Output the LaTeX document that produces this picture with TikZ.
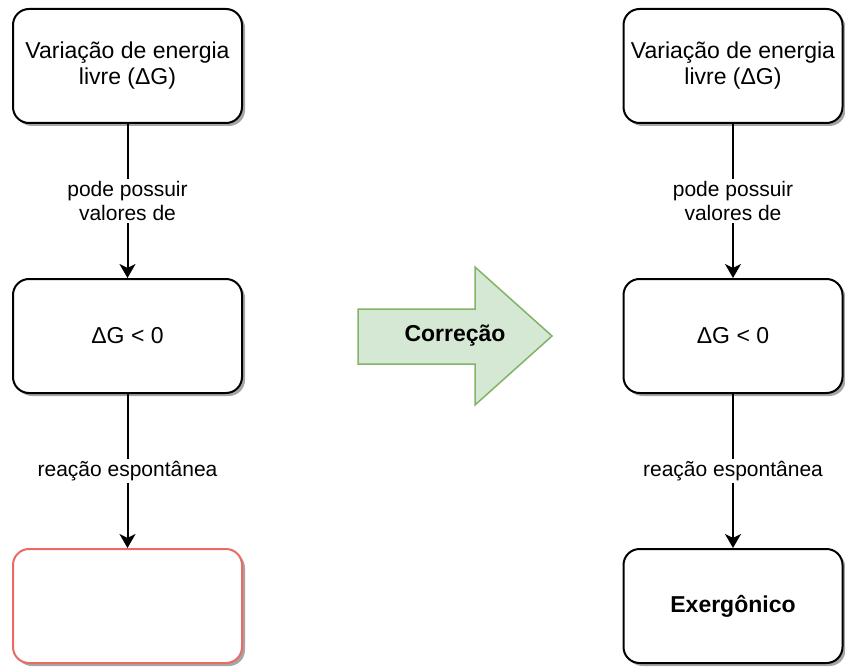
\documentclass[tikz,border=0pt]{standalone}
\usepackage{fontspec}
\setmainfont{Liberation Sans}
\usetikzlibrary{positioning,arrows.meta,shadows}
\definecolor{verdeclaro}{HTML}{D5E8D4}
\definecolor{verdeborda}{HTML}{82B366}
\definecolor{vermelho}{HTML}{EA6B66}

\tikzset{
  caixa/.style={draw, line width=2pt, rounded corners=16pt, fill=white,
    minimum width=229pt, minimum height=114pt, align=center,
    font=\fontsize{23}{26}\selectfont,
    drop shadow={shadow xshift=3pt, shadow yshift=-3pt, fill=black!35, opacity=1}},
  rotulo/.style={fill=white, align=center, font=\fontsize{21}{24}\selectfont, inner sep=2pt},
  seta/.style={-{Stealth[length=14pt,width=16pt,inset=4pt]}, line width=2pt},
}

\begin{document}
\begin{tikzpicture}[x=1pt, y=-1pt]
    \useasboundingbox (0,0) rectangle (845,668);

    % lado esquerdo (original)
    \node[caixa] (b1) at (127.5,66) {Variação de energia\\livre (ΔG)};
    \node[caixa, below=154pt of b1] (b2) {ΔG < 0};
    \node[caixa, draw=vermelho, below=154pt of b2] (b3) {};

    \draw[seta] (b1) -- node[rotulo] {pode possuir\\valores de} (b2);
    \draw[seta] (b2) -- node[rotulo] {reação espontânea} (b3);

    % seta de correcao
    \draw[fill=verdeclaro, draw=verdeborda, line width=1.5pt]
        (358,309) -- (475,309) -- (475,267) -- (552,336) -- (475,405) -- (475,364) -- (358,364) -- cycle;
    \node[font=\fontsize{23}{26}\selectfont\bfseries] (corr) at (455,336) {Correção};

    % lado direito (corrigido)
    \node[caixa, minimum width=219pt] (r1) at (733,66) {Variação de energia\\livre (ΔG)};
    \node[caixa, minimum width=219pt, below=154pt of r1] (r2) {ΔG < 0};
    \node[caixa, minimum width=219pt, below=154pt of r2] (r3) {\textbf{Exergônico}};

    \draw[seta] (r1) -- node[rotulo] {pode possuir\\valores de} (r2);
    \draw[seta] (r2) -- node[rotulo] {reação espontânea} (r3);
\end{tikzpicture}
\end{document}
